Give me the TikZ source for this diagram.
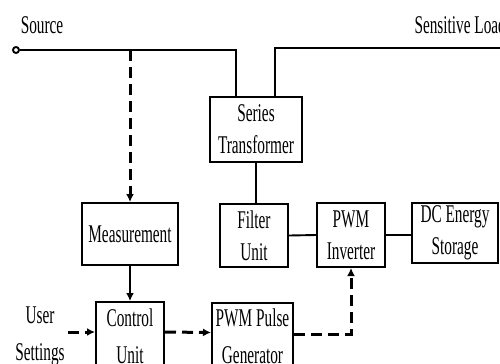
\documentclass[tikz,border=0pt]{standalone}
\usepackage{fontspec}
\setmainfont{Liberation Serif}[FakeStretch=0.6]
\usetikzlibrary{arrows.meta}

\begin{document}
\begin{tikzpicture}[x=1bp,y=-1bp,
        every node/.style={font=\textsize},
        blok/.style={draw,line width=2bp,align=center,inner sep=0pt},
        fir/.style={line width=1.9bp},
        semnal/.style={line width=3bp,dash pattern=on 11bp off 6bp},
        sageata/.style={-{Latex[length=8bp,width=8bp]}}]
        \def\textsize{\fontsize{25.5bp}{32bp}\selectfont}
        \useasboundingbox (0,0) rectangle (500,363);
        \clip (0,0) rectangle (500,363);

        \node (sursa) at (42,25) {Source};
        \node[anchor=west] (sarcina) at (411,25) {Sensitive Load};
        \node[circle,draw,fir,fill=white,inner sep=0pt,minimum size=6bp] (borna) at (16,50) {};
        \coordinate (capat) at (506,48);

        \node[blok,minimum width=92bp,minimum height=65bp] (trafo) at (256,129.5) {Series\\Transformer};
        \node[blok,minimum width=96bp,minimum height=62bp] (masura) at (130,234) {Measurement};
        \node[blok,minimum width=68bp,minimum height=63bp] (filtru) at (254,235.5) {Filter\\Unit};
        \node[blok,minimum width=68bp,minimum height=64bp] (invertor) at (351,235) {PWM\\Inverter};
        \node[blok,minimum width=86bp,minimum height=60bp] (stocare) at (455,233) {DC Energy\\Storage};
        \node[blok,minimum width=68bp,minimum height=68bp] (control) at (130,336) {Control\\[5bp]Unit};
        \node[blok,minimum width=81bp,minimum height=68bp] (puls) at (252.5,336.5) {PWM Pulse\\[5bp]Generator};
        \node[align=center] (utilizator) at (40,336) {User\\[5bp]Settings};

        \draw[fir] (borna.east) -| ([xshift=-20bp]trafo.north);
        \draw[fir] ([xshift=19bp]trafo.north) |- (capat);
        \draw[fir] (trafo.south) -- (trafo.south |- filtru.north);
        \draw[fir] (filtru.east) -- (invertor.west);
        \draw[fir] (invertor.east) -- (invertor.east -| stocare.west);

        \draw[semnal,sageata] (masura.north |- borna) -- (masura.north);
        \draw[fir,sageata] (masura.south) -- (control.north);
        \draw[semnal,sageata] ([yshift=4bp]utilizator.east) -- ([yshift=4bp]control.west);
        \draw[semnal,sageata] ([yshift=4bp]control.east) -- ([yshift=4bp]puls.west);
        \draw[semnal,sageata] ([yshift=2.5bp]puls.east) -| (invertor.south);
    \end{tikzpicture}
\end{document}
